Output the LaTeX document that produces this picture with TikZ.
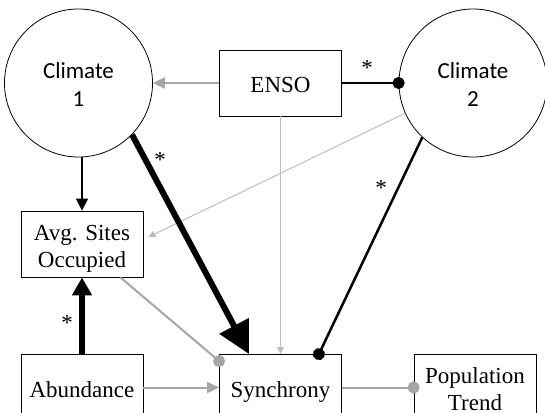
\documentclass[tikz,border=0pt]{standalone}
\usepackage{fontspec}
\setmainfont{Liberation Serif}
\newfontfamily\climatefont{Carlito}
\usetikzlibrary{arrows.meta}
\definecolor{linkgray}{HTML}{A6A6A6}
\definecolor{faintgray}{HTML}{BDBDBD}
% invisible struts giving every label the same line box
\newcommand\topstrut{\rule{0pt}{25pt}}
\newcommand\botstrut{\rule[-6pt]{0pt}{6pt}}
\begin{document}
\begin{tikzpicture}[x=1pt,y=-1pt,
  var/.style={draw=black,line width=0.8pt,minimum width=122pt,minimum height=66pt,
    inner sep=0pt,align=center,font=\fontsize{23}{27}\selectfont},
  latent/.style={circle,draw=black,line width=0.8pt,minimum size=148pt,inner sep=0pt,
    align=center,font=\climatefont\fontsize{23}{28}\selectfont},
  star/.style={inner sep=0pt,font=\fontsize{23}{27}\selectfont},
  grayarrow/.style={draw=linkgray,line width=2pt,-{Triangle[length=12pt,width=11pt]}},
  faintarrow/.style={draw=faintgray,line width=1pt,-{Triangle[length=7pt,width=7pt]}},
  thinarrow/.style={draw=black,line width=1.5pt,-{Triangle[length=12pt,width=12pt]}},
  heavyarrow/.style={draw=black,line width=6pt,-{Triangle[length=32pt,width=32pt]}},
  midheavyarrow/.style={draw=black,line width=6pt,-{Triangle[length=18pt,width=19pt]}},
  blackdot/.style={draw=black,line width=2.5pt,-{Circle[length=12pt]},shorten >=-6pt},
  graydot/.style={draw=linkgray,line width=2pt,-{Circle[length=12pt]},shorten >=-6pt},
]
\useasboundingbox (0,0) rectangle (545,412);
\clip (0,0) rectangle (545,412);

% variables
\node[latent] (c1) at (78.5,83) {\topstrut Climate\\1\botstrut};
\node[latent] (c2) at (473,83) {\topstrut Climate\\2\botstrut};
\node[var] (enso) at (280.5,83) {\topstrut ENSO\botstrut};
\node[var] (avg) at (82,244) {\topstrut Avg. Sites\\Occupied\botstrut};
\node[var] (abund) at (82,387.5) {\topstrut Abundance\botstrut};
\node[var] (sync) at (280.5,387.5) {\topstrut Synchrony\botstrut};
\node[var] (pop) at (475,387.5) {\topstrut Population\\Trend\botstrut};

% paths
\draw[grayarrow] (enso.west) -- (c1.east);
\draw[blackdot] (enso.east) -- (c2.west);
\draw[faintarrow] (enso.south) -- (sync.north);
\draw[faintarrow] (c2.204) -- ([xshift=5pt,yshift=7pt]avg.east);
\draw[blackdot] (c2.227) -- ([xshift=-23pt]sync.north east);
\draw[thinarrow] (c1.south -| avg.north) -- (avg.north);
\draw[heavyarrow] (c1.-44) -- ([xshift=30pt]sync.north west);
\draw[midheavyarrow] (abund.north) -- (avg.south);
\draw[graydot] ([xshift=-23pt]avg.south east) -- ([yshift=-7pt]sync.north west);
\draw[grayarrow] (abund.east) -- (sync.west);
\draw[graydot] (sync.east) -- (pop.west);

% significance marks
\node[star] (s1) at (367,68) {*};
\node[star] (s2) at (160,160) {*};
\node[star] (s3) at (381,188) {*};
\node[star] (s4) at (67,323) {*};
\end{tikzpicture}
\end{document}
